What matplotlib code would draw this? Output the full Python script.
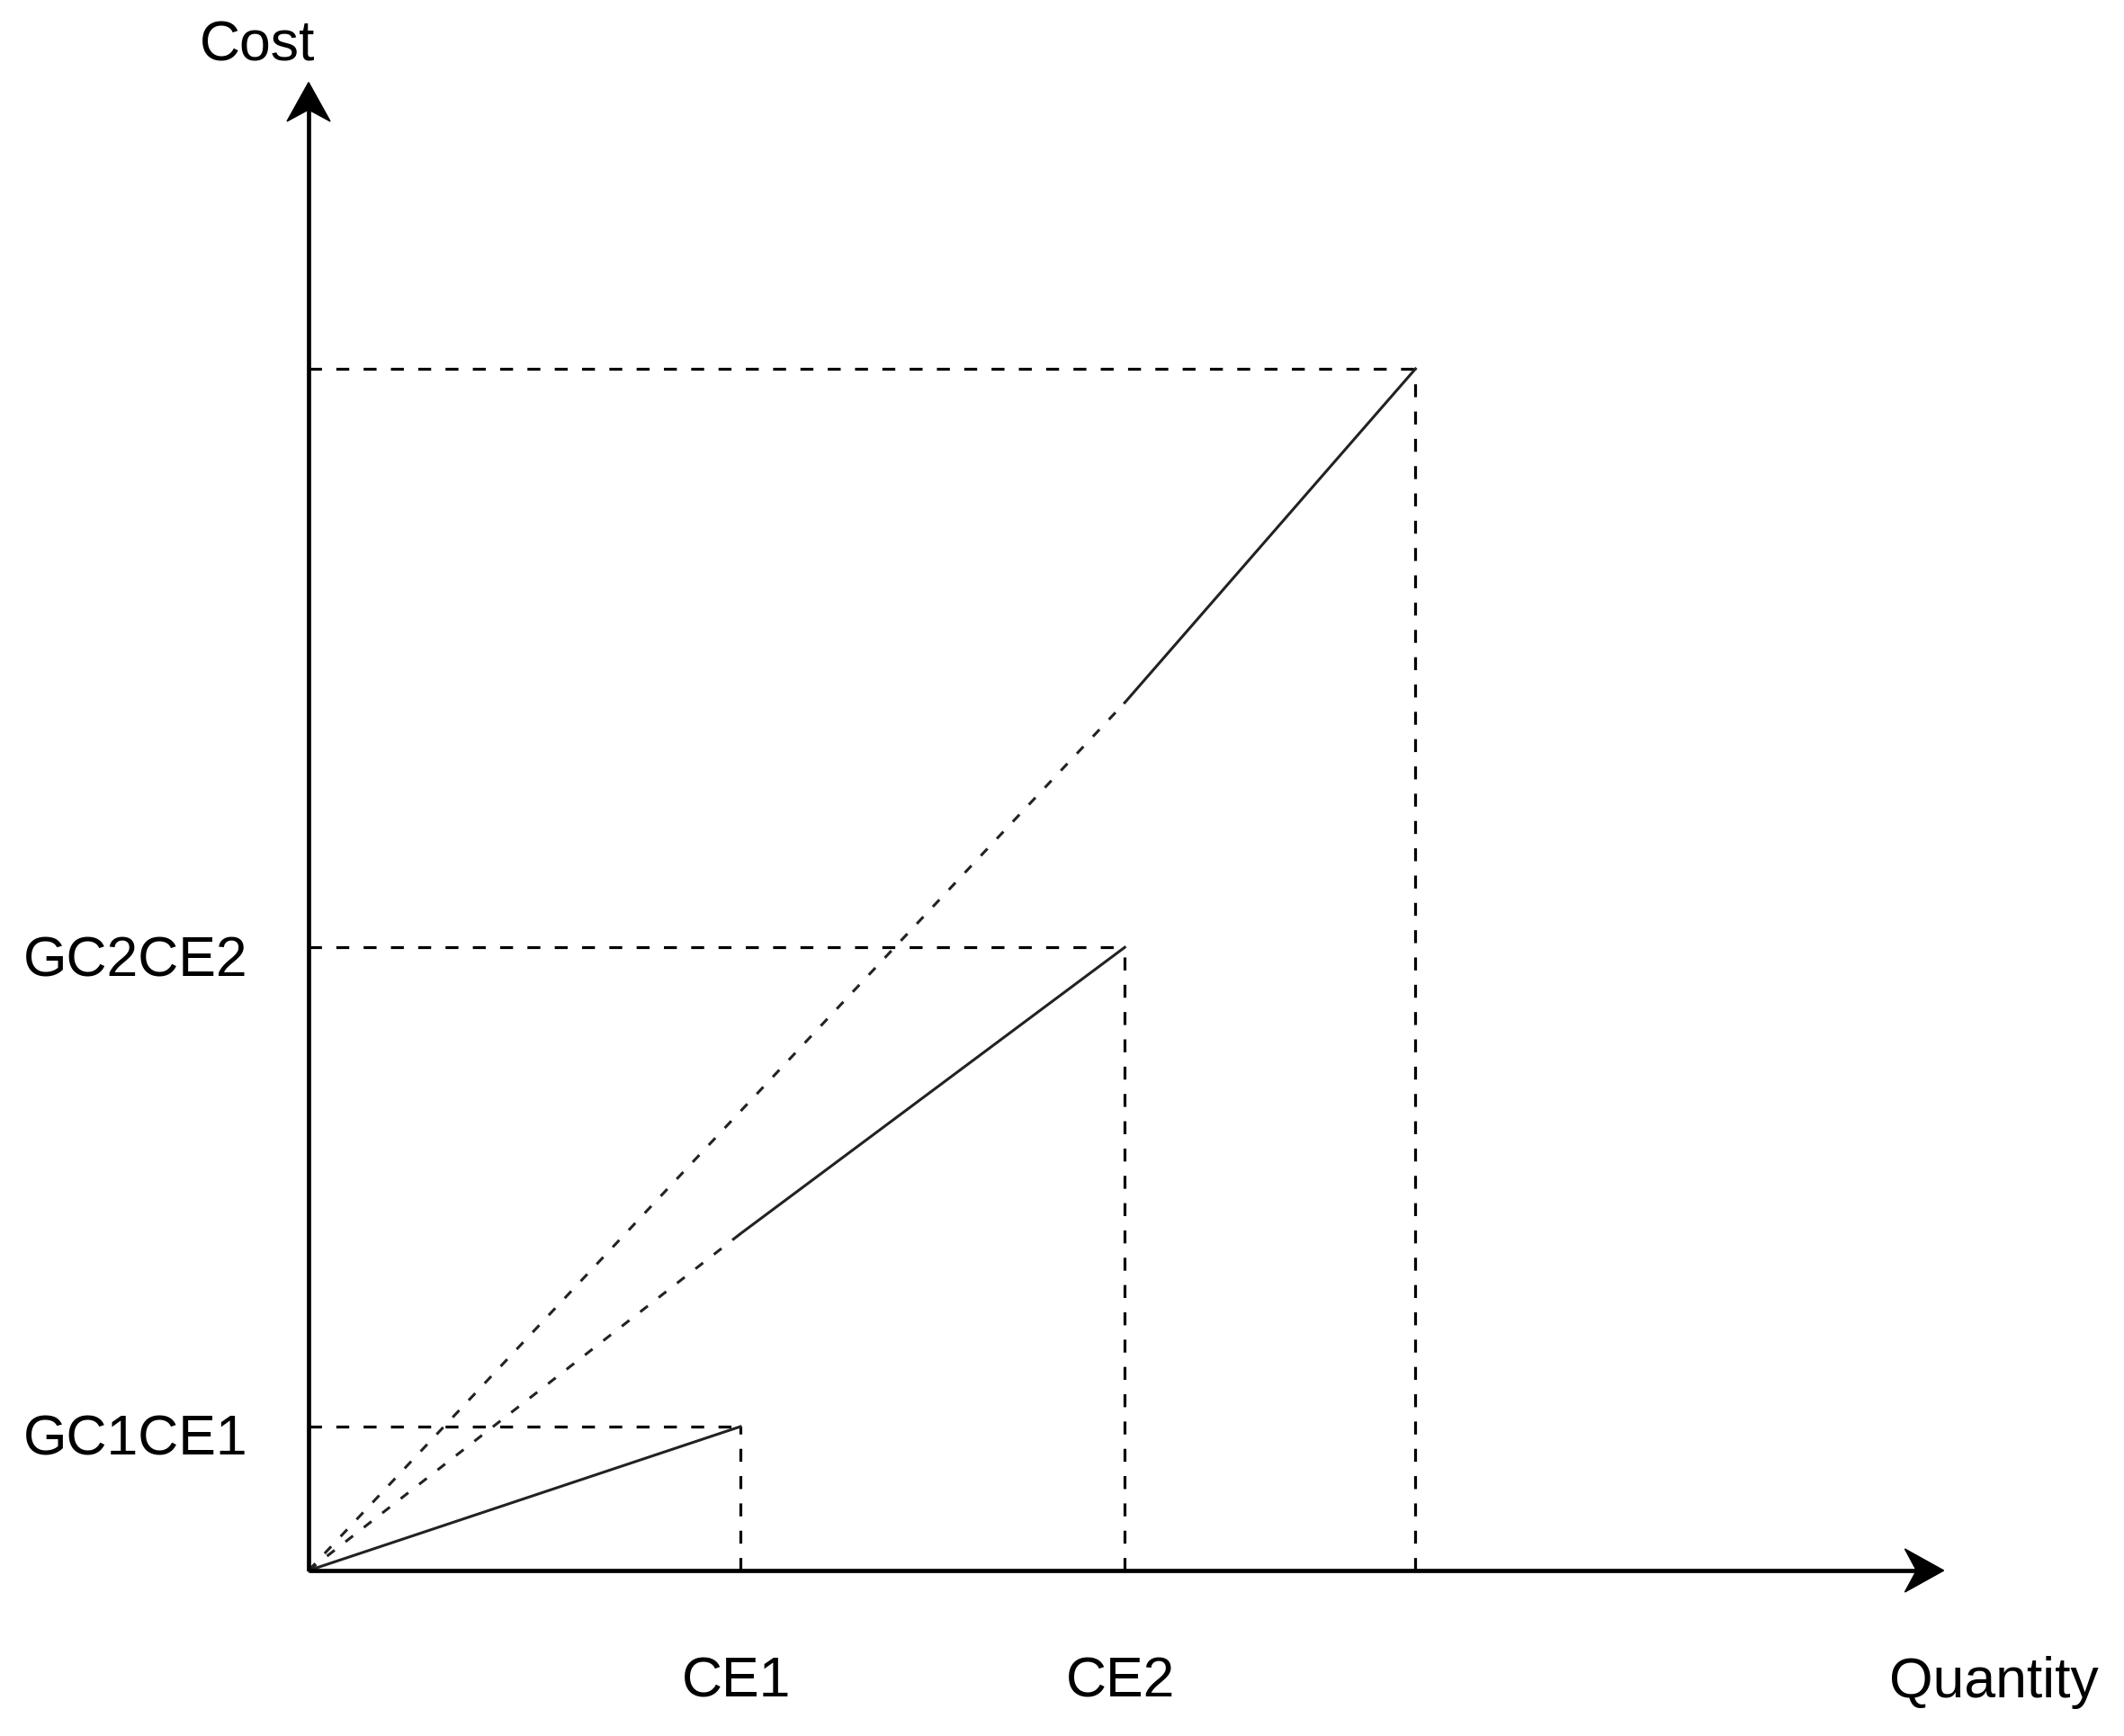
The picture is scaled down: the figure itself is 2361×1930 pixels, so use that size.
import matplotlib
matplotlib.use("Agg")
import matplotlib.pyplot as plt
from matplotlib.patches import Polygon

plt.rcParams['font.family'] = ['Liberation Sans', 'DejaVu Sans']

# quantities and costs (arbitrary units)
cantidades = [3.0, 5.67, 7.69]
costes = [1.0, 4.33, 8.35]
# where each cost line changes from dashed to solid
corte_q = [0.0, 3.0, 5.67]
corte_c = [0.0, 2.34, 6.03]
etiquetas_x = ["CE1", "CE2", ""]
etiquetas_y = ["GC1CE1", "GC2CE2", ""]

x_max = 11.36
y_max = 10.34

fig = plt.figure(figsize=(23.61, 19.31), dpi=100)
ax = fig.add_axes([0, 0, 1, 1])
ax.set_xlim(-2.144, 12.6125)
ax.set_ylim(-1.15, 10.919)
ax.axis("off")

# guide lines
for q, c in zip(cantidades, costes):
    ax.plot([0, q], [c, c], color="black", lw=2.3, dashes=(4.5, 5))
    ax.plot([q, q], [0, c], color="black", lw=2.3, dashes=(4.5, 5))

# cost lines: dashed from origin, solid afterwards
for q, c, bq, bc in zip(cantidades, costes, corte_q, corte_c):
    if bq > 0:
        ax.plot([0, bq], [0, bc], color="#222222", lw=2.2, dashes=(3.5, 5))
    ax.plot([bq, q], [bc, c], color="#222222", lw=2.2)

# axes with arrows
ax.plot([0, x_max - 0.15], [0, 0], color="black", lw=3.4, solid_capstyle="butt")
ax.plot([0, 0], [0, y_max - 0.15], color="black", lw=3.4, solid_capstyle="butt")
L, W = 0.27, 0.30
ax.add_patch(Polygon([[0, y_max], [-W / 2, y_max - L], [0, y_max - 0.7 * L], [W / 2, y_max - L]],
                     closed=True, color="black"))
ax.add_patch(Polygon([[x_max, 0], [x_max - L, W / 2], [x_max - 0.7 * L, 0], [x_max - L, -W / 2]],
                     closed=True, color="black"))

fs = 45
ax.text(-0.356, 10.60, "Cost", fontsize=fs, ha="center", va="center")
ax.text(11.71, -0.77, "Quantity", fontsize=fs, ha="center", va="center")
for q, t in zip(cantidades, etiquetas_x):
    if t:
        ax.text(q - 0.03, -0.77, t, fontsize=fs, ha="center", va="center")
for c, t in zip(costes, etiquetas_y):
    if t:
        ax.text(-1.2, c - 0.09, t, fontsize=fs, ha="center", va="center")

fig.savefig("out.png", dpi=100)
